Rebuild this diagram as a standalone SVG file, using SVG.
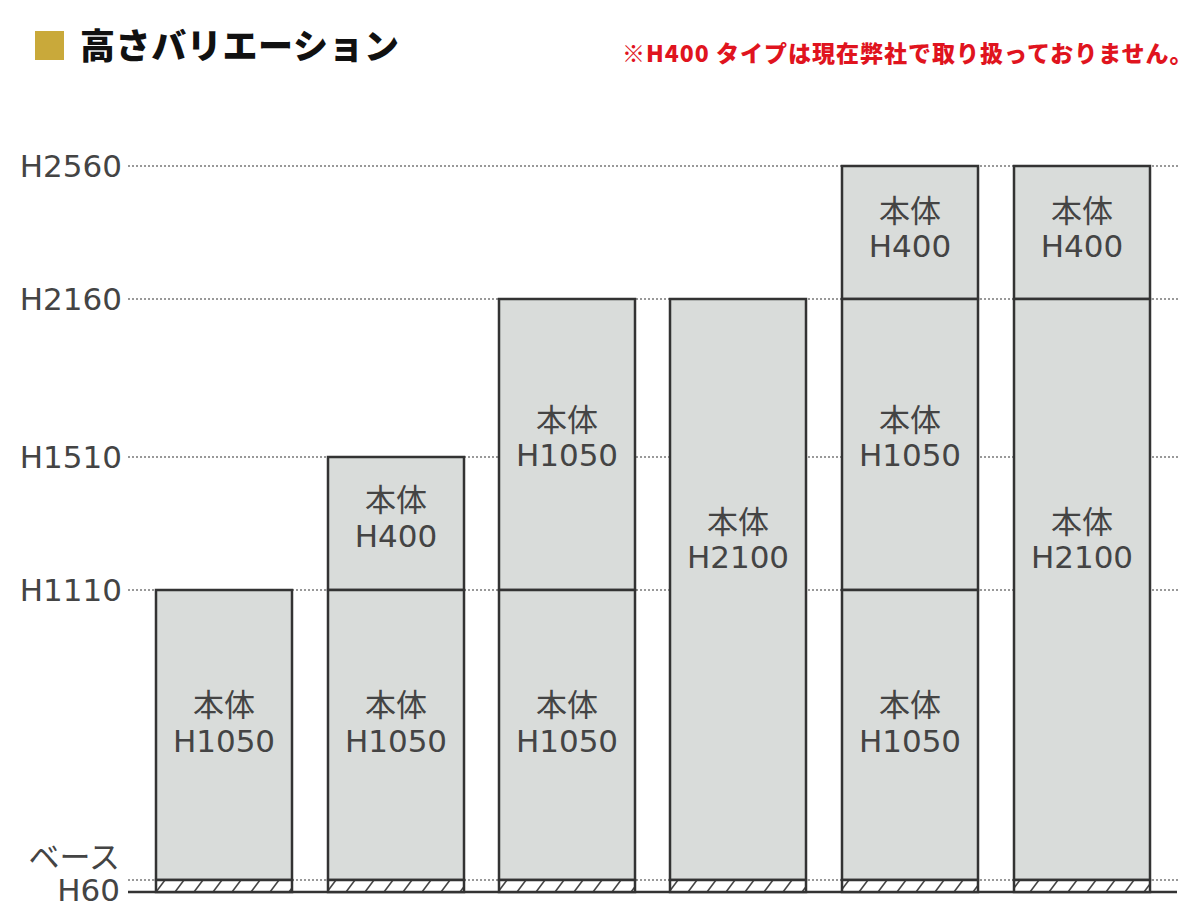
<svg xmlns="http://www.w3.org/2000/svg" width="1200" height="916" viewBox="0 0 1200 916">
<style>
.seg{fill:#d9dcda;stroke:#333;stroke-width:2.5}
.base{fill:url(#hatch);stroke:#333;stroke-width:2.5}
.dot{stroke:#999;stroke-width:2;stroke-dasharray:2 2;fill:none}
.lbl{font-family:"Noto Sans CJK JP","Noto Sans",sans-serif;font-size:31px;fill:#444;text-anchor:middle}
.num{font-family:"DejaVu Sans","Noto Sans",sans-serif;font-size:31px}
.ax{font-family:"DejaVu Sans","Noto Sans CJK JP",sans-serif;font-size:31px;fill:#444;text-anchor:end}
</style>
<defs>
<pattern id="hatch" patternUnits="userSpaceOnUse" x="0" y="880" width="19" height="12">
<rect width="19" height="12" fill="#fff"/>
<line x1="4" y1="12" x2="13" y2="0" stroke="#444" stroke-width="1.6"/>
</pattern>
</defs>
<rect width="1200" height="916" fill="#fff"/>
<g id="title">
<rect x="35" y="31" width="29" height="29" fill="#c9a93a"/>
<text x="80" y="59" font-family="'Noto Sans CJK JP',sans-serif" font-weight="900" font-size="35" letter-spacing="0.6" fill="#111">高さバリエーション</text>
</g>
<g id="note">
<text x="622" y="62" font-family="'Noto Sans CJK JP',sans-serif" font-weight="900" font-size="23" letter-spacing="1" fill="#e0141e">※H400 タイプは現在弊社で取り扱っておりません。</text>
</g>
<g id="axis">
<line class="dot" x1="128" y1="166" x2="1180" y2="166"/>
<line class="dot" x1="128" y1="299" x2="1180" y2="299"/>
<line class="dot" x1="128" y1="457" x2="1180" y2="457"/>
<line class="dot" x1="128" y1="590" x2="1180" y2="590"/>
<line class="dot" x1="128" y1="880" x2="1180" y2="880"/>
<line x1="128" y1="892" x2="1177" y2="892" stroke="#333" stroke-width="2.5"/>
<text class="ax" x="122" y="177">H2560</text>
<text class="ax" x="122" y="310">H2160</text>
<text class="ax" x="122" y="468">H1510</text>
<text class="ax" x="122" y="601">H1110</text>
<text class="ax" x="120" y="901">H60</text>
<text class="ax" x="120" y="868" font-family="'Noto Sans CJK JP',sans-serif">ベース</text>
</g>
<g id="col1">
<rect class="seg" x="156" y="590" width="136" height="290"/>
<rect class="base" x="156" y="880" width="136" height="12"/>
<text class="lbl" x="224" y="716">本体</text><text class="lbl num" x="224" y="752">H1050</text>
</g>
<g id="col2">
<rect class="seg" x="328" y="457" width="136" height="133"/>
<rect class="seg" x="328" y="590" width="136" height="290"/>
<rect class="base" x="328" y="880" width="136" height="12"/>
<text class="lbl" x="396" y="511">本体</text><text class="lbl num" x="396" y="547">H400</text>
<text class="lbl" x="396" y="716">本体</text><text class="lbl num" x="396" y="752">H1050</text>
</g>
<g id="col3">
<rect class="seg" x="499" y="299" width="136" height="291"/>
<rect class="seg" x="499" y="590" width="136" height="290"/>
<rect class="base" x="499" y="880" width="136" height="12"/>
<text class="lbl" x="567" y="431">本体</text><text class="lbl num" x="567" y="466">H1050</text>
<text class="lbl" x="567" y="716">本体</text><text class="lbl num" x="567" y="752">H1050</text>
</g>
<g id="col4">
<rect class="seg" x="670" y="299" width="136" height="581"/>
<rect class="base" x="670" y="880" width="136" height="12"/>
<text class="lbl" x="738" y="533">本体</text><text class="lbl num" x="738" y="568">H2100</text>
</g>
<g id="col5">
<rect class="seg" x="842" y="166" width="136" height="133"/>
<rect class="seg" x="842" y="299" width="136" height="291"/>
<rect class="seg" x="842" y="590" width="136" height="290"/>
<rect class="base" x="842" y="880" width="136" height="12"/>
<text class="lbl" x="910" y="222">本体</text><text class="lbl num" x="910" y="257">H400</text>
<text class="lbl" x="910" y="431">本体</text><text class="lbl num" x="910" y="466">H1050</text>
<text class="lbl" x="910" y="716">本体</text><text class="lbl num" x="910" y="752">H1050</text>
</g>
<g id="col6">
<rect class="seg" x="1014" y="166" width="136" height="133"/>
<rect class="seg" x="1014" y="299" width="136" height="581"/>
<rect class="base" x="1014" y="880" width="136" height="12"/>
<text class="lbl" x="1082" y="222">本体</text><text class="lbl num" x="1082" y="257">H400</text>
<text class="lbl" x="1082" y="533">本体</text><text class="lbl num" x="1082" y="568">H2100</text>
</g>
</svg>
